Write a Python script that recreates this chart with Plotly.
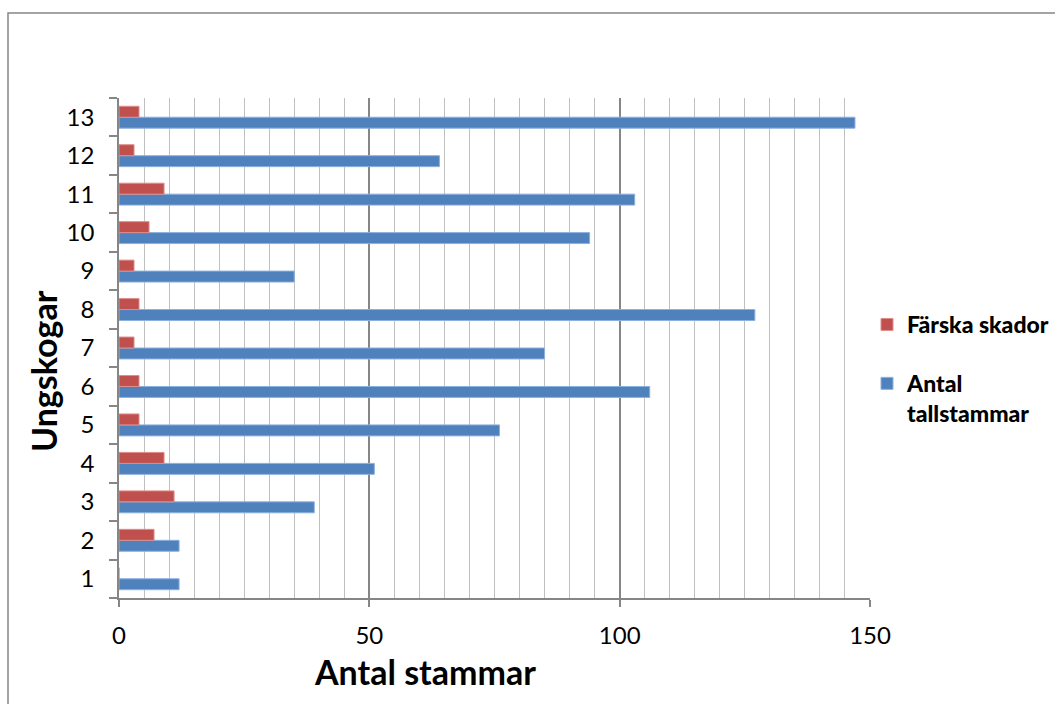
import plotly.graph_objects as go

# Ungskogar 1-13
categories = [str(i) for i in range(1, 14)]
antal_tallstammar = [12, 12, 39, 51, 76, 106, 85, 127, 35, 94, 103, 64, 147]
farska_skador = [0, 7, 11, 9, 4, 4, 3, 4, 3, 6, 9, 3, 4]
x_ticks = [0, 50, 100, 150]

W, H = 1055, 704
L, R, T, B = 119, 870, 98, 598  # plot area in pixels


def px_x(p):
    return (p - L) / (R - L)


def px_y(p):
    return (B - p) / (B - T)


fig = go.Figure()
fig.add_trace(go.Bar(
    y=categories, x=antal_tallstammar, orientation="h",
    name="Antal<br>tallstammar", legendgroup="b", legendrank=2,
    marker=dict(color="#4F81BD", line=dict(color="#8DB0DD", width=1)),
))
fig.add_trace(go.Bar(
    y=categories, x=farska_skador, orientation="h",
    name="Färska skador", legendgroup="a", legendrank=1,
    marker=dict(color="#C0504D", line=dict(color="#E08C8A", width=1)),
))

axis_grey = "#868686"

fig.update_layout(
    width=W, height=H,
    margin=dict(l=L, r=W - R, t=T, b=H - B, pad=0, autoexpand=False),
    paper_bgcolor="white", plot_bgcolor="white",
    barmode="group", bargap=0.43, bargroupgap=0,
    font=dict(family="Lato", color="black"),
    showlegend=True,
    legend=dict(
        x=px_x(867), y=px_y(303), xanchor="left", yanchor="top",
        font=dict(family="Lato", size=23, color="black", weight=900),
        tracegroupgap=26, valign="top", bgcolor="rgba(0,0,0,0)",
        itemwidth=30,
    ),
    xaxis=dict(
        range=[0, 150], tickvals=x_ticks, ticktext=[str(v) for v in x_ticks],
        showline=True, linecolor=axis_grey, linewidth=1.5,
        ticks="outside", ticklen=7, tickcolor=axis_grey, tickwidth=1.5,
        tickfont=dict(size=24, color="black"), ticklabelstandoff=8,
        showgrid=True, gridcolor=axis_grey, gridwidth=1.5,
        zeroline=False,
        minor=dict(dtick=5, tick0=0, showgrid=True, gridcolor="#C0C0C0",
                   gridwidth=1.3, ticks=""),
        fixedrange=True,
    ),
    yaxis=dict(
        type="category", categoryorder="array", categoryarray=categories,
        showline=True, linecolor=axis_grey, linewidth=1.5,
        ticks="outside", tickson="boundaries", ticklen=8,
        tickcolor=axis_grey, tickwidth=1.5,
        tickfont=dict(size=24, color="black"), ticklabelstandoff=18,
        showgrid=False, zeroline=False, fixedrange=True,
    ),
    shapes=[dict(
        type="rect", xref="paper", yref="paper",
        x0=px_x(8), x1=px_x(1070), y0=px_y(720), y1=px_y(13),
        line=dict(color=axis_grey, width=1.5), fillcolor="rgba(0,0,0,0)",
        layer="below",
    )],
    annotations=[
        dict(text="<b>Antal stammar</b>", xref="paper", yref="paper",
             x=px_x(425), y=px_y(671), xanchor="center", yanchor="middle",
             showarrow=False, font=dict(family="Lato", size=34, color="black")),
        dict(text="<b>Ungskogar</b>", xref="paper", yref="paper",
             x=px_x(43), y=px_y(371), xanchor="center", yanchor="middle",
             textangle=-90, showarrow=False,
             font=dict(family="Lato", size=34, color="black")),
    ],
)

fig.write_html("out.html", config={"displayModeBar": False})
